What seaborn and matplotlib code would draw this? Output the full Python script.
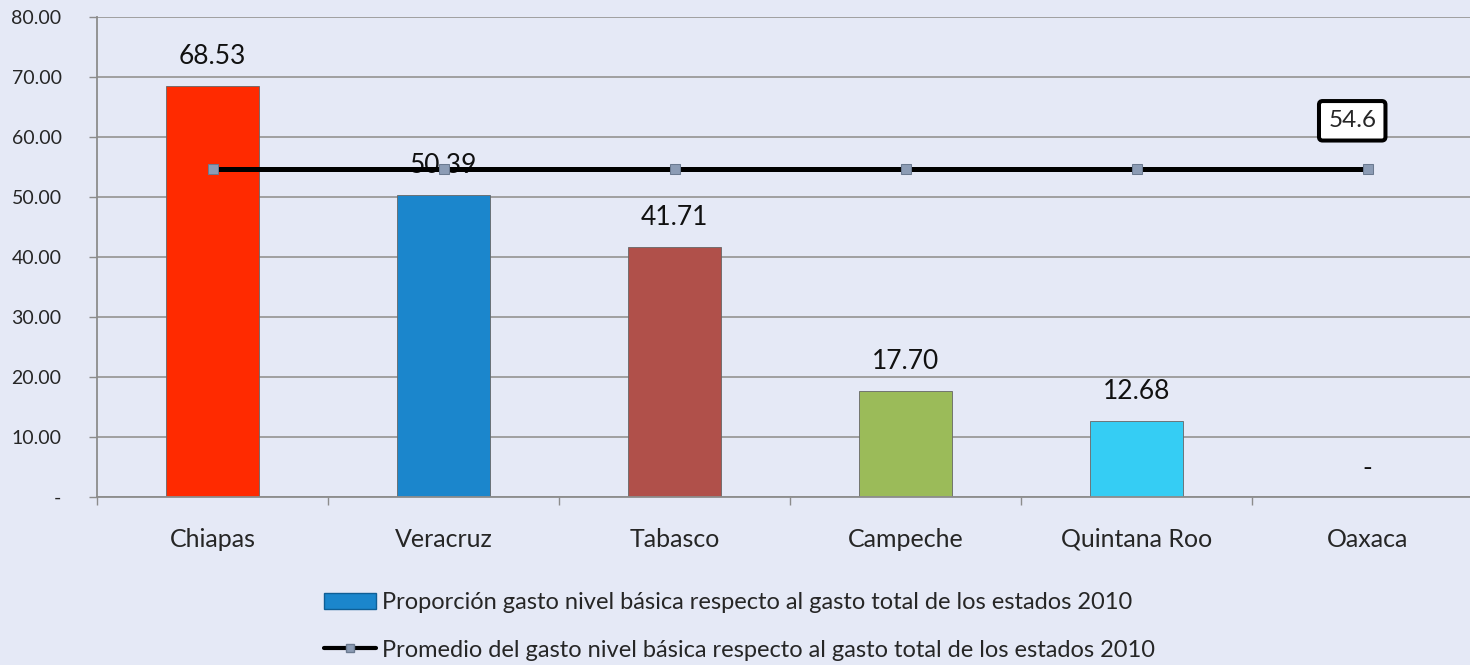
import numpy as np
import pandas as pd
import matplotlib.pyplot as plt
import seaborn as sns
from matplotlib.patches import Patch
from matplotlib.lines import Line2D

# data
estados = ["Chiapas", "Veracruz", "Tabasco", "Campeche", "Quintana Roo", "Oaxaca"]
proporcion = [68.53, 50.39, 41.71, 17.70, 12.68, 0.0]
promedio = [54.6, 54.6, 54.6, 54.6, 54.6, 54.6]
colores = ["#ff2a00", "#1b86cc", "#b0504a", "#9bbb59", "#35cdf4", "#cccccc"]
yticks = [0, 10, 20, 30, 40, 50, 60, 70, 80]

bg = "#e5e9f6"
sns.set_theme(style="white")
plt.rcParams['font.family'] = ['Lato', 'DejaVu Sans']

df = pd.DataFrame({"estado": estados, "valor": proporcion, "prom": promedio})

fig = plt.figure(figsize=(14.7, 6.65), dpi=100, facecolor=bg)
ax = fig.add_axes([97 / 1470, 168 / 665, 1386 / 1470, 480 / 665])
ax.set_facecolor(bg)

sns.barplot(data=df, x="estado", y="valor", hue="estado", palette=colores,
            legend=False, width=0.4, saturation=1, ax=ax,
            edgecolor="#666666", linewidth=0.6)
sns.lineplot(data=df, x="estado", y="prom", color="black", linewidth=3.6,
             marker="s", markersize=6.5, markerfacecolor="#8c9cb5",
             markeredgecolor="#6b7a90", ax=ax, zorder=5)

# value labels (Oaxaca has no value, shown as "-")
for i, v in enumerate(proporcion):
    txt = f"{v:.2f}" if v > 0 else "-"
    ax.text(i, v + 4.83, txt, ha="center", va="center", fontsize=19, color="#111111")

ax.annotate(f"{promedio[-1]:.1f}", xy=(5, promedio[-1]), xytext=(-11, 35),
            textcoords="offset points", ha="center", va="center", fontsize=17.5,
            bbox=dict(boxstyle="round,pad=0.38,rounding_size=0.15", fc="white", ec="black", lw=2.9))

ax.set_xlim(-0.5, 5.5)
ax.set_ylim(0, 80)
ax.set_yticks(yticks)
ax.set_yticklabels(["-"] + [f"{t:.2f}" for t in yticks[1:]], fontsize=14)
ax.set_xticks(np.arange(-0.5, 6, 1))
ax.set_xticklabels([])
ax.set_xticks(range(len(estados)), minor=True)
ax.set_xticklabels(estados, minor=True, fontsize=18)
ax.tick_params(axis="x", which="major", length=5.8, width=1, color="#8c8c8c", direction="out", bottom=True)
ax.tick_params(axis="x", which="minor", length=0, pad=22)
ax.tick_params(axis="y", length=5.5, width=1, color="#8c8c8c", direction="out", left=True, pad=20)
ax.set_xlabel("")
ax.set_ylabel("")
ax.yaxis.grid(True, color="#9a9a9a", linewidth=1.3)
ax.set_axisbelow(True)
for s in ["top", "right"]:
    ax.spines[s].set_visible(False)
for s in ["left", "bottom"]:
    ax.spines[s].set_color("#8c8c8c")
    ax.spines[s].set_linewidth(1.3)

handles = [
    Patch(facecolor="#1b86cc", edgecolor="#0f5f96"),
    Line2D([0], [0], color="black", lw=3, marker="s", markersize=6,
           markerfacecolor="#8c9cb5", markeredgecolor="#6b7a90"),
]
labels = ["Proporción gasto nivel básica respecto al gasto total de los estados 2010",
          "Promedio del gasto nivel básica respecto al gasto total de los estados 2010"]
fig.legend(handles, labels, loc="center", bbox_to_anchor=(0.503, 0.058),
           frameon=False, fontsize=17, labelspacing=1.12, handlelength=2.2,
           handletextpad=0.25, borderaxespad=0, borderpad=0)

fig.savefig("out.png", dpi=100, facecolor=bg)
